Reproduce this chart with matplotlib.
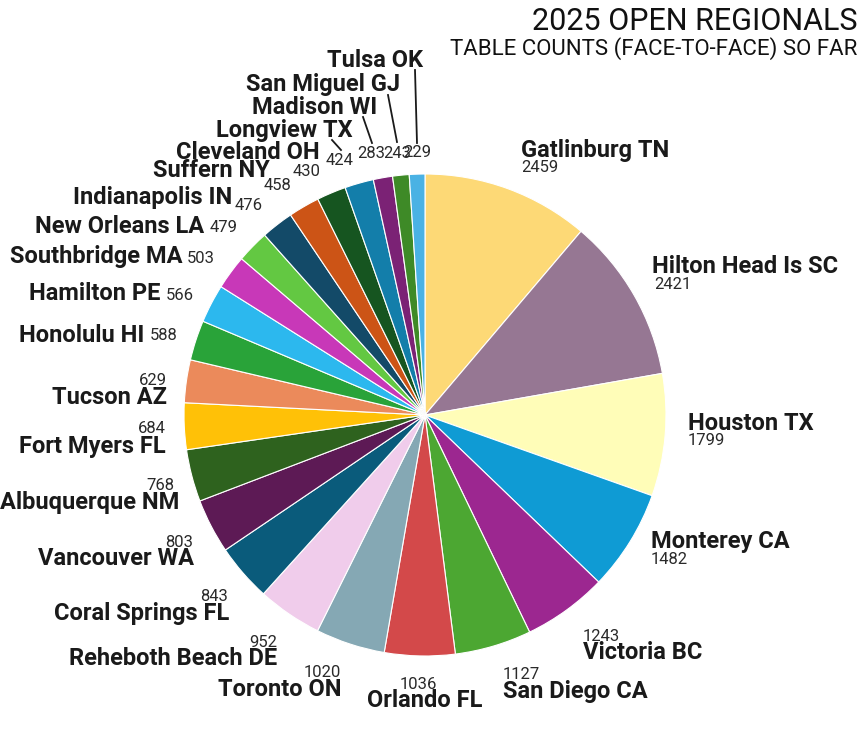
import matplotlib.pyplot as plt

W, H = 864, 742

regions = ["Gatlinburg TN", "Hilton Head Is SC", "Houston TX", "Monterey CA",
           "Victoria BC", "San Diego CA", "Orlando FL", "Toronto ON",
           "Reheboth Beach DE", "Coral Springs FL", "Vancouver WA", "Albuquerque NM",
           "Fort Myers FL", "Tucson AZ", "Honolulu HI", "Hamilton PE",
           "Southbridge MA", "New Orleans LA", "Indianapolis IN", "Suffern NY",
           "Cleveland OH", "Longview TX", "Madison WI", "San Miguel GJ", "Tulsa OK"]
tables = [2459, 2421, 1799, 1482, 1243, 1127, 1036, 1020, 952, 843, 803, 768,
          684, 629, 588, 566, 503, 479, 476, 458, 430, 424, 283, 243, 229]
colors = ["#FDD976", "#967793", "#FFFDB8", "#0F9BD4", "#9C2790", "#4CA732",
          "#D3494A", "#85A8B4", "#F0CCEB", "#0A5B7B", "#5D1A55", "#2E621E",
          "#FFC107", "#EB8A5B", "#29A339", "#2CB8EE", "#C838B8", "#63C842",
          "#134A68", "#CC5416", "#165520", "#137EAA", "#7B2275", "#3E8A27",
          "#4AB2E4"]

# label layout in pixels (x, baseline y, y measured down from the top)
name_pos = [(521, 157), (652, 273), (688, 430), (651, 548), (583, 659),
            (503, 698), (367, 707), (342, 696), (277, 665), (229, 620),
            (194, 565), (179, 509), (166, 453), (167, 404), (144, 342),
            (160, 300), (182, 263), (204, 233), (232, 204), (270, 177),
            (320, 159), (353, 137), (377, 114), (400, 91), (423, 67)]
value_pos = [(521, 172), (654, 289), (688, 445), (651, 564), (583, 641),
             (503, 679), (437, 689), (341, 677), (277, 647), (228, 601),
             (193, 547), (174, 490), (166, 433), (167, 385), (150, 340),
             (166, 300), (187, 263), (210, 232), (235, 210), (264, 190),
             (293, 176), (326, 165), (357, 158), (383, 158), (403, 157)]
name_ha = ["left"] * 7 + ["right"] * 18
value_ha = ["left"] * 6 + ["right"] * 8 + ["left"] * 11
# leader lines for the crowded top slices
leaders = [((332, 140), (341, 150)), ((363, 117), (372, 143)),
           ((388, 95), (397, 142)), ((415, 70), (417, 143))]

plt.rcParams['font.family'] = ['Roboto', 'DejaVu Sans']

fig = plt.figure(figsize=(W / 100, H / 100), dpi=100)
ax = fig.add_axes([0, 0, 1, 1])

ax.pie(tables, colors=colors, startangle=90, counterclock=False,
       center=(425, H - 415), radius=241,
       wedgeprops=dict(edgecolor="white", linewidth=0.8))
ax.set_xlim(0, W)
ax.set_ylim(0, H)
ax.set_aspect("equal")
ax.axis("off")

txt = "#1a1a1a"
for i, name in enumerate(regions):
    nx, ny = name_pos[i]
    vx, vy = value_pos[i]
    ax.text(nx, H - ny, name, ha=name_ha[i], va="baseline", fontsize=17,
            fontweight="bold", color=txt)
    ax.text(vx, H - vy, str(tables[i]), ha=value_ha[i], va="baseline",
            fontsize=12, fontweight="normal", color="#2a2a2a")

for (x0, y0), (x1, y1) in leaders:
    ax.plot([x0, x1], [H - y0, H - y1], color=txt, lw=1.3)

ax.text(857, H - 30, "2025 OPEN REGIONALS", ha="right", va="baseline",
        fontsize=22, fontweight="normal", color="#111111")
ax.text(857, H - 55, "TABLE COUNTS (FACE-TO-FACE) SO FAR", ha="right",
        va="baseline", fontsize=16, fontweight="normal", color="#111111")

fig.savefig("out.png", dpi=100)
